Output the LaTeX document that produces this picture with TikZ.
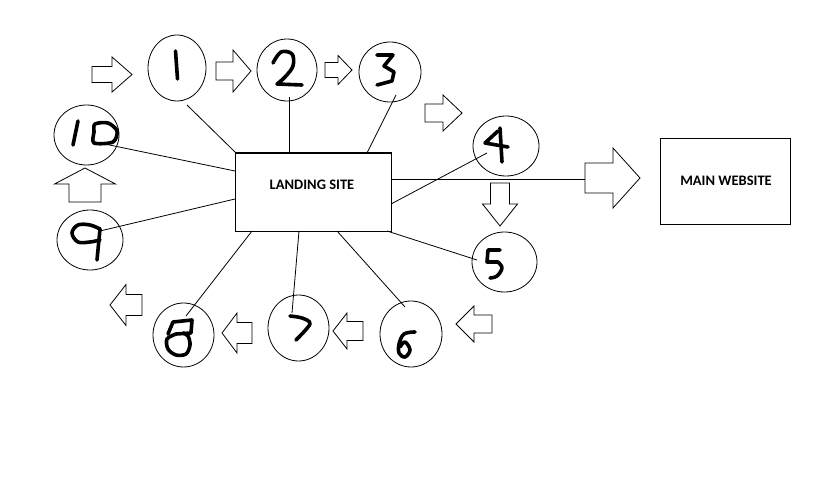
\documentclass[tikz,border=0pt]{standalone}
\usepackage{fontspec}
\setmainfont{Carlito}
\usetikzlibrary{shapes.geometric}
\tikzset{
  circ/.style={draw, ellipse, line width=0.8pt, inner sep=0pt},
  boxn/.style={draw, rectangle, line width=1pt, inner sep=0pt},
  lbl/.style={font=\bfseries\fontsize{14.5}{14.5}\selectfont, inner sep=0pt},
  conn/.style={line width=0.8pt},
  digit/.style={line width=3.6pt, line cap=round, line join=round},
  barrow/.style={draw, line width=0.8pt, line join=miter, fill=white}
}
% block arrow: #1 = transform, #2 length, #3 head length, #4 body half, #5 head half
\newcommand\myblockarrow[5]{%
  \draw[barrow, #1] (0,-#4) -- (#2-#3,-#4) -- (#2-#3,-#5) -- (#2,0) -- (#2-#3,#5) -- (#2-#3,#4) -- (0,#4) -- cycle;}
\begin{document}
\begin{tikzpicture}[x=1pt, y=-1pt]
\useasboundingbox (0,0) rectangle (819,492);
\fill[white] (0,0) rectangle (819,492);

% boxes
\node[boxn, minimum width=156pt, minimum height=78pt] (land) at (313,192) {};
\node[lbl] (landt) at (312,185) {LANDING SITE};
\node[boxn, minimum width=130pt, minimum height=85pt] (main) at (725,181.5) {};
\node[lbl] (maint) at (726,181) {MAIN WEBSITE};

% circles
\node[circ, minimum width=58pt, minimum height=66pt] (c1) at (177,68) {};
\node[circ, minimum width=60pt, minimum height=62pt] (c2) at (287,70) {};
\node[circ, minimum width=62pt, minimum height=60pt] (c3) at (390,72) {};
\node[circ, minimum width=66pt, minimum height=60pt] (c4) at (506,146) {};
\node[circ, minimum width=65pt, minimum height=60pt] (c5) at (504.5,262) {};
\node[circ, minimum width=62pt, minimum height=66pt] (c6) at (411,334) {};
\node[circ, minimum width=61pt, minimum height=66pt] (c7) at (298.5,328) {};
\node[circ, minimum width=61pt, minimum height=64pt] (c8) at (183.5,335) {};
\node[circ, minimum width=66pt, minimum height=60pt] (c9) at (90,240) {};
\node[circ, minimum width=65pt, minimum height=60pt] (c10) at (86.5,135) {};

% connector end points
\coordinate (p1) at (187,105);  \coordinate (q1) at (236,153);
\coordinate (p2) at (289,97);   \coordinate (q2) at (289,153);
\coordinate (p3) at (396,95);   \coordinate (q3) at (367,153);
\coordinate (p4) at (487,153);  \coordinate (q4) at (391,204);
\coordinate (p5) at (477,260);  \coordinate (q5) at (387,231);
\coordinate (p6) at (405,307);  \coordinate (q6) at (337,231);
\coordinate (p7) at (292,313);  \coordinate (q7) at (299,231);
\coordinate (p8) at (186,316);  \coordinate (q8) at (252,231);
\coordinate (p9) at (100,231);  \coordinate (q9) at (235,199);
\coordinate (p10) at (95,142);  \coordinate (q10) at (235,171);
\coordinate (pm) at (391,179);  \coordinate (qm) at (585,179);

\foreach \i in {1,...,10} {\draw[conn] (p\i) -- (q\i);}
\draw[conn] (pm) -- (qm);

% block arrows
\myblockarrow{shift={(92,74.5)}}{40}{20}{8}{17.5}
\myblockarrow{shift={(216,71)}}{35}{18}{9}{21}
\myblockarrow{shift={(325,70)}}{27}{14}{7.5}{14.5}
\myblockarrow{shift={(425,113)}}{37}{19}{9}{18}
\myblockarrow{shift={(500,183)},rotate=-90}{43}{22}{9.5}{17.5}
\myblockarrow{shift={(585,178)}}{55}{27}{15}{30}
\myblockarrow{shift={(492,324)},rotate=180}{36}{18}{9}{18}
\myblockarrow{shift={(363,331)},rotate=180}{30}{14}{9.5}{18}
\myblockarrow{shift={(252,333)},rotate=180}{30}{15}{10.5}{20}
\myblockarrow{shift={(142,305)},rotate=180}{32}{16}{10.5}{20.5}
\myblockarrow{shift={(85,202)},rotate=90}{34}{16}{16}{30.5}

% handwritten digits
% 1
\draw[digit] (175.5,51) -- (177.5,79);
% 2
\draw[digit] plot[smooth, tension=0.6] coordinates {(273,63) (281,52) (292,54) (293,66) (285,77) (277,84)} -- (302,85);
% 3
\draw[digit] (377,55) -- (393,55) -- (384,66) -- (394,72) -- (392,81) -- (377,85);
% 10
\draw[digit] (78,121) -- (73,145);
\draw[digit] plot[smooth cycle, tension=0.5] coordinates {(95,124) (108,123) (117,131) (113,142) (94,143) (94,132)};
% 4
\draw[digit] (500,128) -- (502,162);
\draw[digit] (498,131) -- (485,143) -- (508,147);
% 5
\draw[digit] (500,250) -- (488,250) -- (487,262) -- (498,262);
\draw[digit] plot[smooth, tension=0.6] coordinates {(498,262) (502,268) (497,276) (490,278)};
% 6
\draw[digit] plot[smooth, tension=0.6] coordinates {(415,332) (404,334) (399,344) (399,353) (405,357) (410,350) (405,342) (400,347)};
% 7
\draw[digit] plot[smooth, tension=0.5] coordinates {(290,316) (302,318) (310,324) (296,340)};
% 8
\draw[digit] (176,334) -- (191,333) -- (192,320) -- (173,322) -- (168,334);
\draw[digit] plot[smooth, tension=0.55] coordinates {(176,334) (167,339) (168,349) (176,355) (186,354) (190,345) (188,336) (183,333)};
% 9
\draw[digit] plot[smooth, tension=0.6] coordinates {(100,229) (90,225) (78,225) (72,233) (78,242) (90,242) (100,240)};
\draw[digit] (100,229) -- (97,260);
\end{tikzpicture}
\end{document}
